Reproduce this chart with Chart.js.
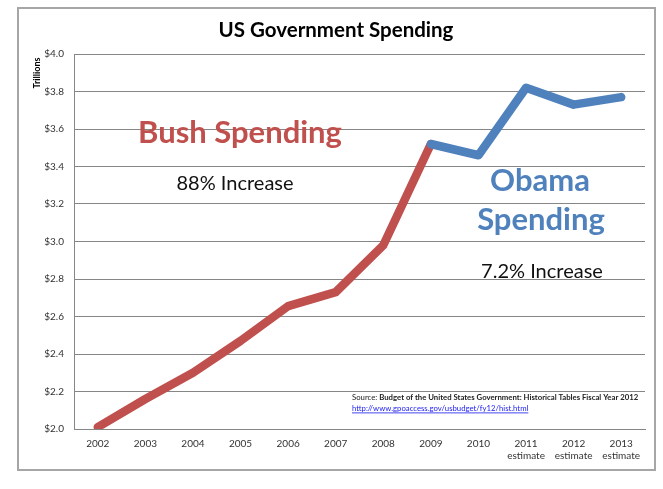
<!DOCTYPE html>
<html>
<head>
<meta charset="utf-8">
<script src="https://cdn.jsdelivr.net/npm/chart.js@4"></script>
<style>
    html, body { margin: 0; padding: 0; background: #fff; }
    #wrap { width: 663px; height: 489px; }
</style>
</head>
<body>
<div id="wrap"><canvas id="spendingChart" width="663" height="489"></canvas></div>
<script>
// Years on the x axis (multi-line labels for the estimates)
const years = ['2002', '2003', '2004', '2005', '2006', '2007', '2008', '2009', '2010',
    ['2011', 'estimate'], ['2012', 'estimate'], ['2013', 'estimate']];

// Outlays in trillions of dollars
const bushSpending  = [2.01, 2.16, 2.30, 2.47, 2.655, 2.73, 2.98, 3.52, null, null, null, null];
const obamaSpending = [null, null, null, null, null, null, null, 3.52, 3.46, 3.82, 3.73, 3.77];

// Y axis range and step
const yMin = 2.0;
const yMax = 4.0;
const yStep = 0.2;

const RED = '#c0504d';
const BLUE = '#4f81bd';
const FONT = 'Lato, "Open Sans", sans-serif';

document.addEventListener('DOMContentLoaded', function() {
    const ctx = document.getElementById('spendingChart').getContext('2d');

    // Frame, title and the text boxes laid over the plot
    const decorations = {
        id: 'decorations',
        beforeDraw(chart) {
            const c = chart.ctx;
            c.save();
            c.fillStyle = '#fff';
            c.fillRect(0, 0, chart.width, chart.height);
            c.strokeStyle = '#a6a6a6';
            c.lineWidth = 2;
            c.strokeRect(18, 8, 637, 462);
            c.restore();
        },
        afterDraw(chart) {
            const c = chart.ctx;
            c.save();
            c.textAlign = 'center';
            c.textBaseline = 'alphabetic';

            c.fillStyle = '#000';
            c.font = 'bold 20.5px ' + FONT;
            c.fillText('US Government Spending', 336, 37);

            c.fillStyle = RED;
            c.font = 'bold 31px ' + FONT;
            c.fillText('Bush Spending', 240, 143);

            c.fillStyle = '#111';
            c.font = '20px ' + FONT;
            c.fillText('88% Increase', 235, 190);

            c.fillStyle = BLUE;
            c.font = 'bold 31px ' + FONT;
            c.fillText('Obama', 540, 191);
            c.fillText('Spending', 541, 230);

            c.fillStyle = '#111';
            c.font = '20px ' + FONT;
            c.fillText('7.2% Increase', 542, 278);

            // Source note, shrunk until it fits the same width as the original
            const head = 'Source: ';
            const body = 'Budget of the United States Government: Historical Tables Fiscal Year 2012';
            let size = 9;
            while (size > 6) {
                c.font = size + 'px ' + FONT;
                let total = c.measureText(head).width;
                c.font = 'bold ' + size + 'px ' + FONT;
                total += c.measureText(body).width;
                if (total <= 287) break;
                size -= 0.25;
            }
            c.textAlign = 'left';
            c.font = size + 'px ' + FONT;
            c.fillStyle = '#222';
            c.fillText(head, 352, 400);
            const w = c.measureText(head).width;
            c.font = 'bold ' + size + 'px ' + FONT;
            c.fillText(body, 352 + w, 400);

            const link = 'http://www.gpoaccess.gov/usbudget/fy12/hist.html';
            c.font = size + 'px ' + FONT;
            c.fillStyle = '#1a1aee';
            c.fillText(link, 352, 411);
            const lw = c.measureText(link).width;
            c.fillRect(352, 412.5, lw, 0.8);

            // Axis unit label, sits at the top of the axis
            c.translate(37, 73);
            c.rotate(-Math.PI / 2);
            c.textAlign = 'center';
            c.textBaseline = 'middle';
            c.fillStyle = '#000';
            c.font = 'bold 9px ' + FONT;
            c.fillText('Trillions', 0, 0);
            c.restore();
        }
    };

    new Chart(ctx, {
        type: 'line',
        data: {
            labels: years,
            datasets: [{
                label: 'Obama',
                data: obamaSpending,
                borderColor: BLUE,
                backgroundColor: BLUE,
                borderWidth: 8.5,
                pointRadius: 0,
                borderCapStyle: 'round',
                borderJoinStyle: 'round',
                spanGaps: false,
                order: 0
            }, {
                label: 'Bush',
                data: bushSpending,
                borderColor: RED,
                backgroundColor: RED,
                borderWidth: 8.5,
                pointRadius: 0,
                borderCapStyle: 'round',
                borderJoinStyle: 'round',
                spanGaps: false,
                order: 1
            }]
        },
        options: {
            responsive: false,
            animation: false,
            devicePixelRatio: 1,
            layout: {
                padding: { left: 20, top: 54, right: 18, bottom: 20 }
            },
            plugins: {
                legend: { display: false },
                tooltip: { enabled: false }
            },
            scales: {
                x: {
                    offset: true,
                    grid: { display: false, drawTicks: false },
                    border: { display: true, color: '#868686', width: 1 },
                    ticks: {
                        color: '#333',
                        font: { family: FONT, size: 10 },
                        padding: 9,
                        maxRotation: 0,
                        autoSkip: false
                    },
                    afterFit(scale) { scale.height = 40; }
                },
                y: {
                    min: yMin,
                    max: yMax,
                    grid: { color: '#868686', lineWidth: 1, drawTicks: false },
                    border: { display: true, color: '#868686', width: 1 },
                    ticks: {
                        stepSize: yStep,
                        color: '#333',
                        font: { family: FONT, size: 10 },
                        padding: 10,
                        callback: value => '$' + value.toFixed(1)
                    },
                    afterFit(scale) { scale.width = 54; }
                }
            }
        },
        plugins: [decorations]
    });
});
</script>
</body>
</html>
